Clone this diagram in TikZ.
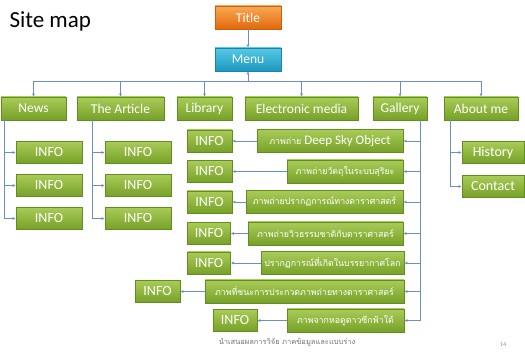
\documentclass[tikz,border=0pt]{standalone}
\usepackage{fontspec}
\setmainfont{Carlito}
\newfontfamily\thai[Script=Thai]{Loma}
\usetikzlibrary{arrows.meta,shadows}
\definecolor{gtop}{HTML}{A9CB57}
\definecolor{gbot}{HTML}{76A128}
\definecolor{gborder}{HTML}{628E20}
\definecolor{otop}{HTML}{F9A955}
\definecolor{obot}{HTML}{E2690A}
\definecolor{oborder}{HTML}{C95E0C}
\definecolor{btop}{HTML}{56CAE6}
\definecolor{bbot}{HTML}{1D97BE}
\definecolor{bborder}{HTML}{1C83A6}
\definecolor{linec}{HTML}{6A8FC8}
\tikzset{
  x=1pt, y=-1pt,
  gbox/.style={rectangle, draw=gborder, line width=0.5pt, top color=gtop, bottom color=gbot,
    text=white, inner sep=0pt, minimum height=23pt,
    drop shadow={shadow xshift=0.8pt, shadow yshift=-1pt, opacity=0.3, fill=black}},
  catbox/.style={gbox, font=\fontsize{13.5}{13.5}\selectfont},
  infobox/.style={gbox, font=\fontsize{14}{14}\selectfont, minimum height=22pt},
  thbox/.style={gbox, font=\fontsize{8.8}{8.8}\selectfont\thai},
  obox/.style={rectangle, draw=oborder, line width=0.5pt, top color=otop, bottom color=obot,
    text=white, inner sep=0pt, minimum width=66pt, minimum height=23pt, font=\fontsize{13.5}{13.5}\selectfont,
    drop shadow={shadow xshift=0.8pt, shadow yshift=-1pt, opacity=0.3, fill=black}},
  bbox/.style={obox, draw=bborder, top color=btop, bottom color=bbot},
  wire/.style={draw=linec, line width=0.6pt},
  arr/.style={wire, -{Latex[length=3.2pt,width=3pt]}},
}
\begin{document}
\begin{tikzpicture}
\useasboundingbox (0,0) rectangle (525,352);
\node[anchor=west, font=\fontsize{23}{23}\selectfont] (sitemap) at (6,21.5) {Site map};

\node[obox] (title) at (248,17.5) {Title};
\node[bbox] (menu) at (248,59.5) {Menu};

\node[catbox, minimum width=65pt] (news) at (33.5,108.5) {News};
\node[catbox, minimum width=87pt] (article) at (120.5,108.5) {The Article};
\node[catbox, minimum width=55pt] (library) at (204.5,108.5) {Library};
\node[catbox, minimum width=113pt] (emedia) at (301.5,108.5) {Electronic media};
\node[catbox, minimum width=54pt] (gallery) at (400,108.5) {Gallery};
\node[catbox, minimum width=74pt] (about) at (481,108.5) {About me};

\coordinate (bus) at (248,81);
\draw[arr] (title) -- (menu);
\draw[wire] (news.north |- bus) -- (about.north |- bus);
\draw[arr] (bus) -- (menu.south);
\foreach \n in {news,article,library,emedia,gallery,about}
  \draw[arr] (\n.north |- bus) -- (\n.north);

% News
\node[infobox, minimum width=66pt] (n1) at (49,152.5) {INFO};
\node[infobox, minimum width=66pt] (n2) at (49,185.5) {INFO};
\node[infobox, minimum width=66pt] (n3) at (49,218.5) {INFO};
\coordinate (ns) at (4,120);
\foreach \i in {n1,n2,n3} \draw[arr] (ns) |- (\i.west);

% The Article
\node[infobox, minimum width=66pt] (a1) at (138,152.5) {INFO};
\node[infobox, minimum width=66pt] (a2) at (138,185.5) {INFO};
\node[infobox, minimum width=66pt] (a3) at (138,218.5) {INFO};
\coordinate (as) at (92,120);
\foreach \i in {a1,a2,a3} \draw[arr] (as) |- (\i.west);

% About me
\node[infobox, minimum width=62pt] (hist) at (493,152.5) {History};
\node[infobox, minimum width=62pt] (cont) at (493,186.5) {Contact};
\coordinate (abs) at (450,120);
\foreach \i in {hist,cont} \draw[arr] (abs) |- (\i.west);

% Gallery
\node[thbox, minimum width=146pt] (t1) at (330,141) {ภาพถ่าย {\rmfamily\fontsize{13}{13}\selectfont Deep Sky Object}};
\node[thbox, minimum width=116pt] (t2) at (345,171.5) {ภาพถ่ายวัตถุในระบบสุริยะ};
\node[thbox, minimum width=157pt] (t3) at (324.5,202) {ภาพถ่ายปรากฏการณ์ทางดาราศาสตร์};
\node[thbox, minimum width=155pt] (t4) at (325.5,233.5) {ภาพถ่ายวิวธรรมชาติกับดาราศาสตร์};
\node[thbox, minimum width=143pt] (t5) at (332.5,263) {ปรากฏการณ์ที่เกิดในบรรยากาศโลก};
\node[thbox, minimum width=199pt] (t6) at (304.5,291.5) {ภาพที่ชนะการประกวดภาพถ่ายทางดาราศาสตร์};
\node[thbox, minimum width=117pt] (t7) at (345.5,320.5) {ภาพจากหอดูดาวซีกฟ้าใต้};

\node[infobox, minimum width=45pt] (i1) at (209.5,141) {INFO};
\node[infobox, minimum width=45pt] (i2) at (209.5,171.5) {INFO};
\node[infobox, minimum width=45pt] (i3) at (209.5,202) {INFO};
\node[infobox, minimum width=43pt] (i4) at (209,233.5) {INFO};
\node[infobox, minimum width=43pt] (i5) at (209,263) {INFO};
\node[infobox, minimum width=45pt] (i6) at (157.5,291.5) {INFO};
\node[infobox, minimum width=44pt] (i7) at (235,320.5) {INFO};

\coordinate (gs) at (420,120);
\foreach \k in {1,...,7} {
  \draw[arr] (gs) |- (t\k.east);
  \draw[arr] (t\k.west) -- (i\k.east);
}

\node[font=\fontsize{7.5}{7.5}\selectfont\thai, text=black!55] (foot) at (287,342) {นำเสนอผลการวิจัย ภาคข้อมูลและแบบร่าง};
\node[font=\fontsize{6}{6}\selectfont, text=black!45] (pg) at (503,345) {14};
\end{tikzpicture}
\end{document}
